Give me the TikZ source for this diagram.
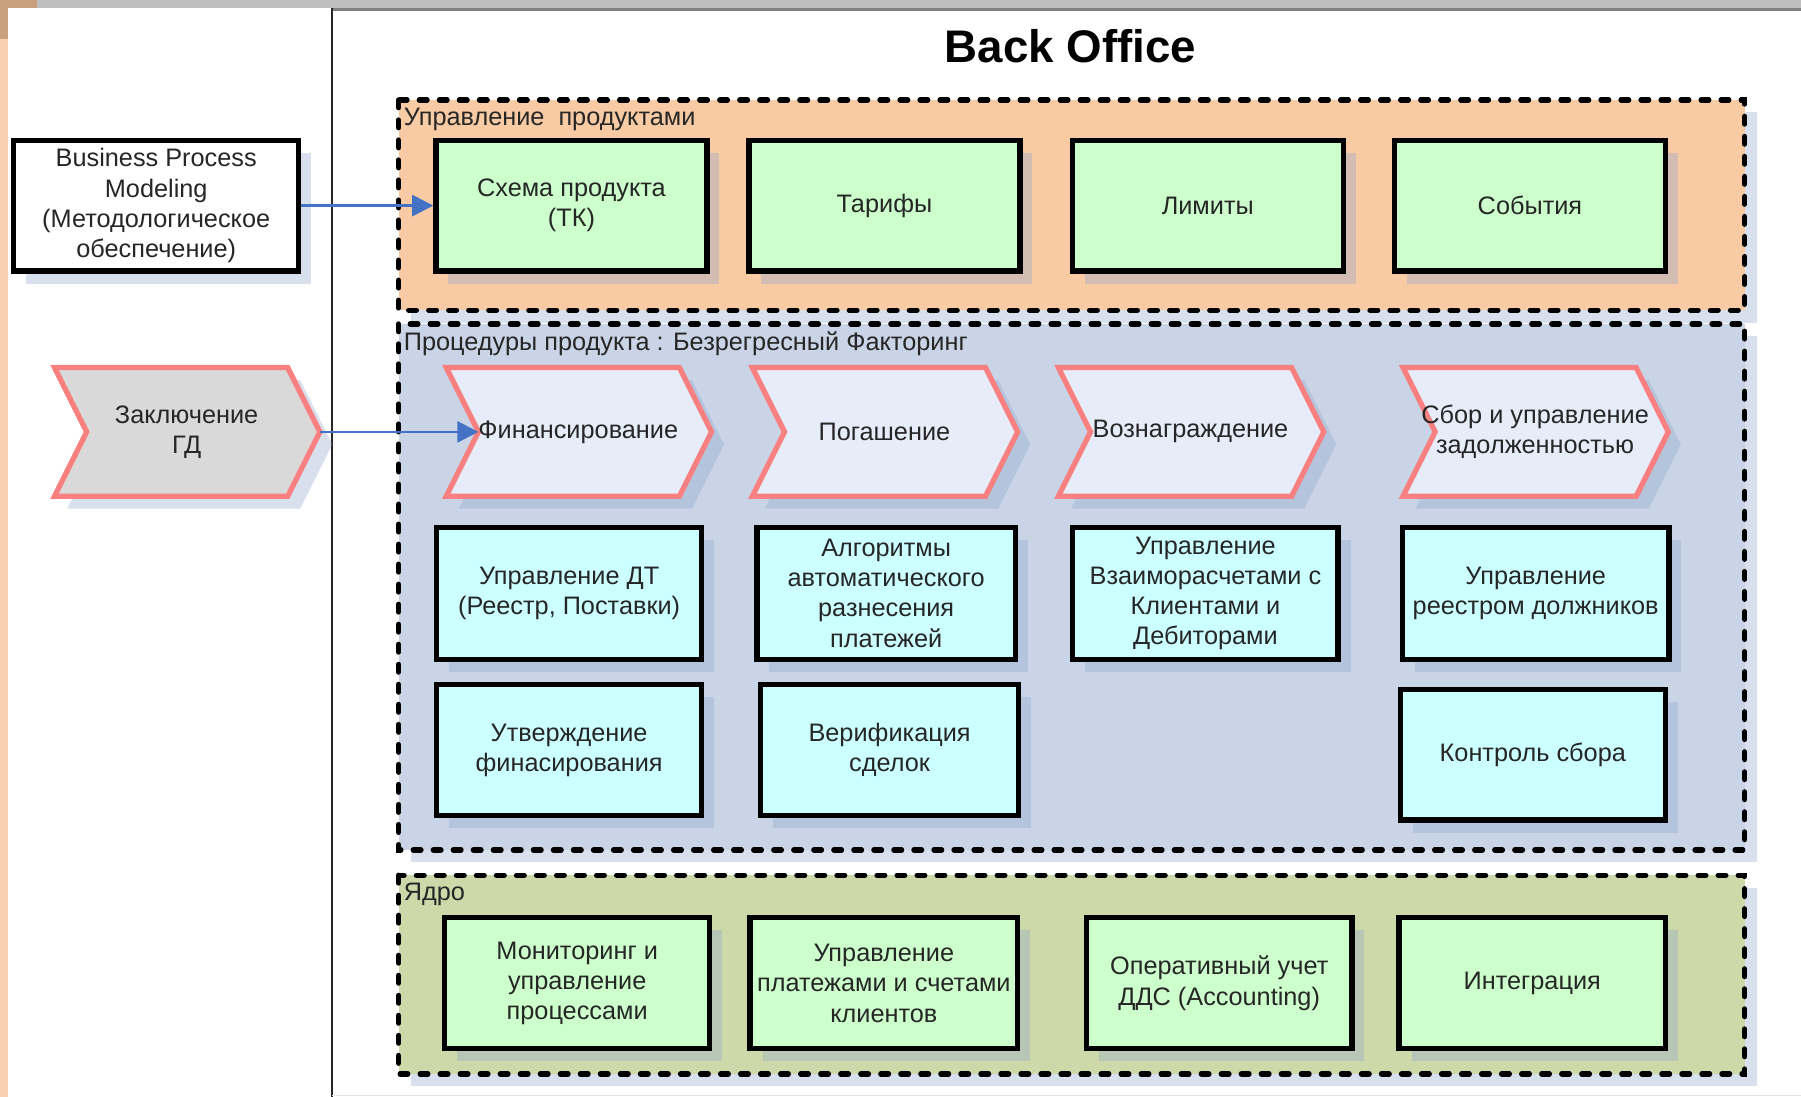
\documentclass[tikz,border=0pt]{standalone}
\usepackage{fontspec}
\setmainfont{Liberation Sans}
\usetikzlibrary{arrows.meta,shadows}

\definecolor{prodbg}{HTML}{F8CBA5}
\definecolor{procbg}{HTML}{C9D5E6}
\definecolor{corebg}{HTML}{CDD9A8}
\definecolor{grn}{HTML}{CCFFCC}
\definecolor{cyn}{HTML}{CCFFFF}
\definecolor{chevfill}{HTML}{E6ECF8}
\definecolor{gdgray}{HTML}{D9D9D9}
\definecolor{chevred}{HTML}{F88080}
\definecolor{arrowblue}{HTML}{4472C4}
\definecolor{shadowc}{HTML}{8EA5CF}
\definecolor{txt}{HTML}{262626}
\definecolor{cornerbrown}{HTML}{C9A07E}
\definecolor{stripbg}{HTML}{F8CFB0}

\newcommand\pxu{0.11486mm}

\tikzset{
    boxshadow/.style={drop shadow={shadow xshift=1.25mm, shadow yshift=-1.25mm, fill=shadowc, opacity=.35}},
    box/.style={draw=black, line width=1.5pt, minimum width=#1*\pxu, minimum height=114*\pxu,
        align=center, inner sep=1pt, boxshadow},
    box/.default=236,
    grnbox/.style={box=#1, fill=grn},
    grnbox/.default=236,
    cyanbox/.style={box=#1, fill=cyn},
    cyanbox/.default=231,
    grp/.style={line width=1.5pt, dash pattern=on 2.2pt off 3.5pt, line cap=round, boxshadow},
    chevline/.style={draw=chevred, line width=1.5pt, line join=miter, boxshadow},
    flow/.style={draw=arrowblue, line width=0.7pt, -{Triangle[length=6pt,width=6pt]}},
    pics/chevron/.style 2 args={code={
        \draw[chevline, fill=#1] (-115,56) -- (88,56) -- (116,0) -- (88,-56) -- (-115,-56) -- (-87,0) -- cycle;
        \coordinate (-tip) at (116,0);
        \coordinate (-notch) at (-87,0);
        \node[align=center, inner sep=0pt] (-txt) {#2};
    }}
}

\begin{document}
\begin{tikzpicture}[x=0.011486cm, y=-0.011486cm, font=\fontsize{7.2}{8.6}\selectfont, text=txt]
    \useasboundingbox (0,0) rectangle (1568,955);

    % page frame
    \fill[black!25] (32,0) rectangle (1568,7);
    \fill[black!50] (289,7) rectangle (1568,10);
    \fill[cornerbrown] (0,0) rectangle (32,7);
    \fill[cornerbrown] (0,0) rectangle (7,34);
    \fill[stripbg] (0,34) rectangle (7,955);
    \draw[black!85, line width=0.7pt] (289,7) -- (289,955);
    \draw[black!10] (289,954) -- (1568,954);

    \node[font=\fontsize{13}{15}\selectfont\bfseries, text=black] (title) at (932,40) {Back Office};

    % groups
    \draw[grp, fill=prodbg] (347,87) rectangle (1519,270);
    \draw[grp, fill=procbg] (347,282) rectangle (1519,740);
    \draw[grp, fill=corebg] (347,762) rectangle (1519,935);
    \node[anchor=west, inner sep=0pt] (prodlbl) at (351,104) {Управление\ \ продуктами};
    \node[anchor=west, inner sep=0pt] (proclbl) at (351,299) {Процедуры продукта : Безрегресный Факторинг};
    \node[anchor=west, inner sep=0pt] (corelbl) at (351,779) {Ядро};

    % left column
    \node[box=248, fill=white] (bpm) at (136,179) {Business Process\\Modeling\\(Методологическое\\обеспечение)};
    \pic (gd) at (162.5,376) {chevron={gdgray}{Заключение\\ГД}};

    % product management
    \node[grnbox] (schema) at (497.5,179) {Схема продукта\\(ТК)};
    \node[grnbox] (tariffs) at (770,179) {Тарифы};
    \node[grnbox] (limits) at (1051.5,179) {Лимиты};
    \node[grnbox] (events) at (1332,179) {События};

    % procedures
    \pic (fin) at (503.5,376) {chevron={chevfill}{Финансирование}};
    \pic (repay) at (770,376) {chevron={chevfill}{Погашение}};
    \pic (reward) at (1036.5,376) {chevron={chevfill}{Вознаграждение}};
    \pic (collect) at (1336.5,376) {chevron={chevfill}{Сбор и управление\\задолженностью}};

    \node[cyanbox, minimum height=115*\pxu] (dtmgmt) at (495.5,516.5) {Управление ДТ\\(Реестр, Поставки)};
    \node[cyanbox=225, minimum height=115*\pxu] (algo) at (771.5,516.5) {Алгоритмы\\автоматического\\разнесения\\платежей};
    \node[cyanbox, minimum height=115*\pxu] (settle) at (1049.5,516.5) {Управление\\Взаиморасчетами с\\Клиентами и\\Дебиторами};
    \node[cyanbox=232, minimum height=115*\pxu] (debtors) at (1337,516.5) {Управление\\реестром должников};
    \node[cyanbox] (approve) at (495.5,653) {Утверждение\\финасирования};
    \node[cyanbox=225] (verify) at (774.5,653) {Верификация\\сделок};
    \node[cyanbox] (control) at (1334.5,657) {Контроль сбора};

    % core
    \node[grnbox=231] (monitor) at (502.5,856) {Мониторинг и\\управление\\процессами};
    \node[grnbox=233] (payments) at (769.5,856) {Управление\\платежами и счетами\\клиентов};
    \node[grnbox=231] (accounting) at (1061.5,856) {Оперативный учет\\ДДС (Accounting)};
    \node[grnbox=232] (integr) at (1334,856) {Интеграция};

    \draw[flow] (bpm.east) -- (schema.west);
    \draw[flow] (gd-tip) -- (fin-notch);
\end{tikzpicture}
\end{document}
